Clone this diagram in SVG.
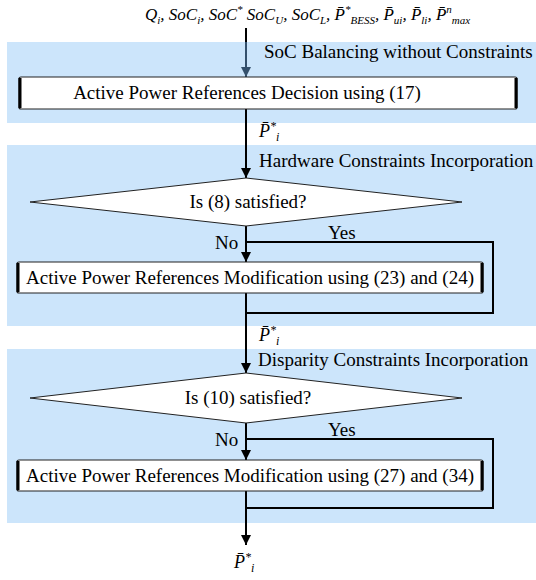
<svg xmlns="http://www.w3.org/2000/svg" width="536" height="580" viewBox="0 0 536 580">
<style>
.band{fill:#cce5fb}
.t{font-family:"Liberation Serif","Times New Roman",serif;font-size:19px;fill:#000}
.m{font-family:"Liberation Serif","Times New Roman",serif;font-size:18px;font-style:italic;fill:#000}
.top{font-size:17px}
.s{font-size:12px}
.ss{font-size:11px}
.box{fill:#fff;stroke:#222;stroke-width:1.2}
.edge{stroke:#000;stroke-width:3;fill:none}
.ln{stroke:#000;stroke-width:2;fill:none}
.dia{fill:#fff;stroke:#222;stroke-width:1}
</style>
<defs>
<marker id="ah" viewBox="0 0 10 10" refX="10" refY="5" markerWidth="10" markerHeight="10" markerUnits="userSpaceOnUse" orient="auto">
<path d="M0,0 L10,5 L0,10 Z" fill="#000"/>
</marker>
<marker id="ah2" viewBox="0 0 10 10" refX="10" refY="5" markerWidth="10" markerHeight="10" markerUnits="userSpaceOnUse" orient="auto">
<path d="M0,0 L10,5 L0,10 Z" fill="#34506c"/>
</marker>
</defs>

<g id="bands">
<rect class="band" x="7" y="42" width="529" height="81"/>
<rect class="band" x="7" y="145" width="529" height="181"/>
<rect class="band" x="7" y="349" width="529" height="174"/>
<text class="t" x="264" y="58">SoC Balancing without Constraints</text>
<text class="t" x="259" y="167">Hardware Constraints Incorporation</text>
<text class="t" x="258" y="366">Disparity Constraints Incorporation</text>
</g>

<g id="connectors">
<line x1="246" y1="28" x2="246" y2="42" class="ln"/>
<line x1="246" y1="42" x2="246" y2="77" stroke="#34506c" stroke-width="2" marker-end="url(#ah2)"/>
<line x1="246" y1="109" x2="246" y2="178" class="ln" marker-end="url(#ah)"/>
<line x1="246" y1="226" x2="246" y2="262" class="ln" marker-end="url(#ah)"/>
<polyline points="246,242 493,242 493,313 246,313" class="ln"/>
<line x1="246" y1="293" x2="246" y2="373" class="ln" marker-end="url(#ah)"/>
<line x1="246" y1="423" x2="246" y2="460" class="ln" marker-end="url(#ah)"/>
<polyline points="246,439 493,439 493,508 246,508" class="ln"/>
<line x1="246" y1="491" x2="246" y2="545" class="ln" marker-end="url(#ah)"/>
<text class="t" x="215" y="249">No</text>
<text class="t" x="328" y="239">Yes</text>
<text class="t" x="215" y="446">No</text>
<text class="t" x="328" y="436">Yes</text>
</g>

<g id="inputs">
<text class="m top" x="145" y="20">Q<tspan class="ss" dy="4">i</tspan><tspan dy="-4">, SoC</tspan><tspan class="ss" dy="4">i</tspan><tspan dy="-4">, SoC</tspan><tspan class="ss" dy="-7">*</tspan><tspan dy="7"> SoC</tspan><tspan class="ss" dy="4">U</tspan><tspan dy="-4">, SoC</tspan><tspan class="ss" dy="4">L</tspan><tspan dy="-4">, P̄</tspan><tspan class="ss" dy="-7">*</tspan><tspan class="ss" dy="11">BESS</tspan><tspan dy="-4">, P̄</tspan><tspan class="ss" dy="4">ui</tspan><tspan dy="-4">, P̄</tspan><tspan class="ss" dy="4">li</tspan><tspan dy="-4">, P̄</tspan><tspan class="ss" dy="-7">n</tspan><tspan class="ss" dy="11">max</tspan></text>
</g>

<g id="decision17">
<rect class="box" x="19" y="77" width="498" height="32" rx="2"/>
<line class="edge" x1="20" y1="78" x2="20" y2="108"/>
<line class="edge" x1="516" y1="78" x2="516" y2="108"/>
<text class="t" x="247" y="99" text-anchor="middle">Active Power References Decision using (17)</text>
</g>

<g id="p1"><text class="m" x="259" y="137">P̄<tspan class="s" dy="-7">*</tspan><tspan class="s" dy="11">i</tspan></text></g>

<g id="check8">
<polygon class="dia" points="246,178 462,202 246,226 30,202"/>
<text class="t" x="248" y="208" text-anchor="middle">Is (8) satisfied?</text>
</g>

<g id="mod2324">
<rect class="box" x="17" y="262" width="466" height="31" rx="2"/>
<line class="edge" x1="18" y1="263" x2="18" y2="292"/>
<line class="edge" x1="482" y1="263" x2="482" y2="292"/>
<text class="t" x="250" y="284" text-anchor="middle">Active Power References Modification using (23) and (24)</text>
</g>

<g id="p2"><text class="m" x="259" y="341">P̄<tspan class="s" dy="-7">*</tspan><tspan class="s" dy="11">i</tspan></text></g>

<g id="check10">
<polygon class="dia" points="246,373 462,398 246,423 30,398"/>
<text class="t" x="248" y="404" text-anchor="middle">Is (10) satisfied?</text>
</g>

<g id="mod2734">
<rect class="box" x="17" y="460" width="466" height="31" rx="2"/>
<line class="edge" x1="18" y1="461" x2="18" y2="490"/>
<line class="edge" x1="482" y1="461" x2="482" y2="490"/>
<text class="t" x="250" y="482" text-anchor="middle">Active Power References Modification using (27) and (34)</text>
</g>

<g id="pout"><text class="m" x="234" y="568">P̄<tspan class="s" dy="-7">*</tspan><tspan class="s" dy="11">i</tspan></text></g>
</svg>
